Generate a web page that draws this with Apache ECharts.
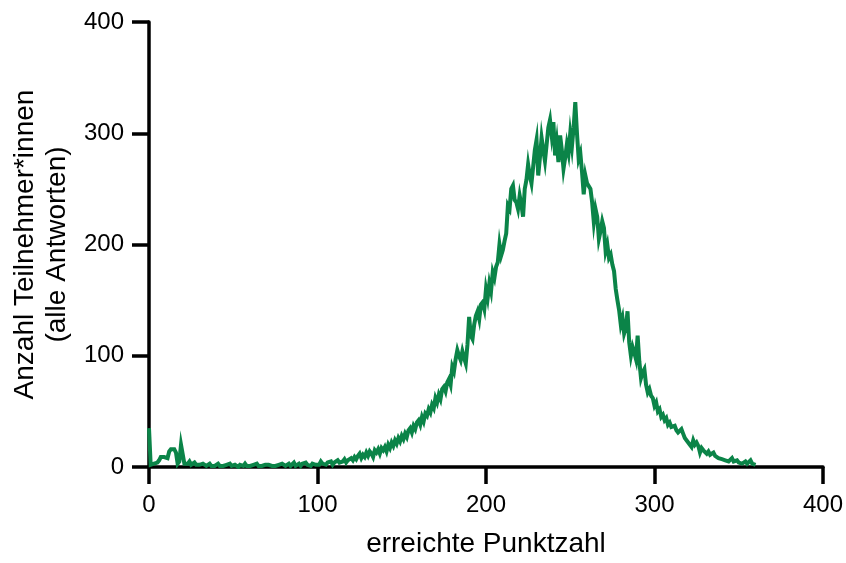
<!DOCTYPE html>
<html>
<head>
<meta charset="utf-8">
<script src="https://cdn.jsdelivr.net/npm/echarts@6/dist/echarts.min.js"></script>
<style>html,body{margin:0;padding:0;background:#fff}#c{width:846px;height:563px}</style>
</head>
<body>
<div id="c"></div>
<script>
const xTicks = [0, 100, 200, 300, 400];
const yTicks = [0, 100, 200, 300, 400];
const xName = 'erreichte Punktzahl';
const yName = 'Anzahl Teilnehmer*innen\n(alle Antworten)';
// counts for points 0..360
const counts = [
35,2,1,3,2,4,6,9,8,9,
10,8,14,16,15,16,13,3,5,20,
19,3,4,3,5,2,3,4,2,3,
2,1,3,2,1,2,3,1,2,1,
2,3,1,2,1,0,2,1,3,1,
1,2,1,0,2,1,1,3,1,2,
1,0,2,1,3,1,2,1,0,2,
1,2,3,1,2,1,0,2,1,3,
2,1,2,3,1,2,4,1,2,3,
1,3,2,4,2,3,1,3,4,2,
3,2,5,3,4,2,4,3,5,2,
4,3,6,4,3,5,7,4,6,5,
8,6,9,7,10,12,8,11,9,13,
10,14,12,9,15,13,16,12,17,15,
18,14,20,17,22,19,24,21,26,23,
28,25,30,27,33,35,31,37,34,40,
42,38,45,41,48,46,52,49,56,53,
62,58,65,61,70,72,68,76,79,74,
90,86,97,105,100,96,104,98,93,110,
135,118,115,128,136,140,133,146,148,142,
160,152,165,158,175,170,180,184,200,190,
195,203,210,235,232,250,253,240,238,232,
244,236,225,250,258,272,262,255,270,285,
294,262,278,296,285,275,290,305,312,298,
310,280,292,274,298,285,268,278,290,282,
300,288,305,328,300,277,282,265,245,262,
255,256,250,238,220,232,225,205,212,221,
215,194,200,188,191,182,176,160,150,141,
128,134,120,125,140,112,100,108,103,97,
118,95,80,85,88,74,67,70,64,62,
55,58,50,52,45,47,42,44,38,40,
36,35,37,33,31,32,34,30,26,24,
22,20,18,24,20,22,19,13,17,15,
16,12,14,11,12,13,10,11,8,9,
7,8,6,7,5,6,8,5,4,6,
4,5,3,4,5,3,4,6,3,4,
2
];
const points = counts.map((v, i) => [i, v]);

const chart = echarts.init(document.getElementById('c'), null, {renderer: 'canvas'});
const font = 'Liberation Sans, Arial, sans-serif';
const axisCommon = {
  axisLine: {show: true, onZero: false, lineStyle: {color: '#000', width: 3.5}},
  axisTick: {show: true, length: 17, lineStyle: {color: '#000', width: 3.5}},
  splitLine: {show: false},
  axisLabel: {color: '#000', fontSize: 24, fontFamily: font},
  nameTextStyle: {color: '#000', fontSize: 28, fontFamily: font}
};
chart.setOption({
  animation: false,
  backgroundColor: '#fff',
  grid: {left: 149, right: 21, top: 22, bottom: 91, containLabel: false},
  xAxis: Object.assign({}, axisCommon, {
    type: 'value', min: xTicks[0], max: xTicks[xTicks.length - 1], interval: 100,
    name: xName, nameLocation: 'middle', nameGap: 63,
    axisLabel: Object.assign({}, axisCommon.axisLabel, {
      margin: 26,
      formatter: v => xTicks.includes(v) ? String(v) : ''
    })
  }),
  yAxis: Object.assign({}, axisCommon, {
    type: 'value', min: yTicks[0], max: yTicks[yTicks.length - 1], interval: 100,
    name: yName, nameLocation: 'middle', nameGap: 76, nameRotate: 90,
    nameTextStyle: Object.assign({}, axisCommon.nameTextStyle, {lineHeight: 32}),
    axisLabel: Object.assign({}, axisCommon.axisLabel, {
      margin: 25,
      formatter: v => yTicks.includes(v) ? String(v) : ''
    })
  }),
  series: [{
    type: 'line',
    data: points,
    showSymbol: false,
    symbol: 'none',
    lineStyle: {color: '#0b8448', width: 4, join: 'miter'},
    z: 1
  }]
});
</script>
</body>
</html>
